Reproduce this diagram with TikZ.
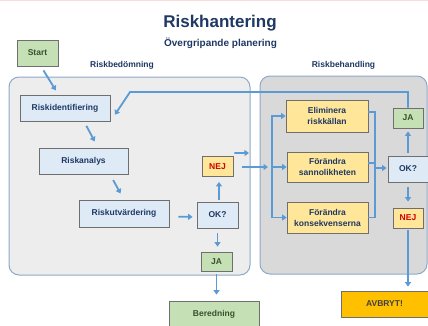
\documentclass[tikz,border=0pt]{standalone}
\usepackage{fontspec}
\setmainfont{Liberation Sans}
\usetikzlibrary{arrows.meta}
\definecolor{navy}{HTML}{1F3864}
\definecolor{gtext}{HTML}{3A4F2E}
\definecolor{redtext}{HTML}{D00000}
\definecolor{greytext}{HTML}{404040}
\definecolor{lblue}{HTML}{DEEBF7}
\definecolor{lyellow}{HTML}{FFE699}
\definecolor{lgreen}{HTML}{C5E0B4}
\definecolor{orange}{HTML}{FFC000}
\definecolor{boxline}{HTML}{6F6F6F}
\definecolor{panelA}{HTML}{EDEDED}
\definecolor{panelB}{HTML}{D9D9D9}
\definecolor{panelline}{HTML}{8EA9C8}
\definecolor{arrblue}{HTML}{5B9BD5}
\definecolor{pinkline}{HTML}{F9DADD}
\tikzset{
  box/.style={draw=boxline, line width=0.8pt, inner sep=1pt, align=center,
    font=\bfseries\fontsize{8.5}{11}\selectfont},
  bluebox/.style={box, fill=lblue, text=navy},
  yellowbox/.style={box, fill=lyellow, text=navy},
  nejbox/.style={box, fill=lyellow, text=redtext},
  greenbox/.style={box, fill=lgreen, text=gtext},
  stopbox/.style={box, fill=orange, text=greytext},
  panel/.style={draw=panelline, line width=1pt, rounded corners=10pt, inner sep=0pt},
  lbl/.style={font=\bfseries\fontsize{8.5}{10}\selectfont, text=navy, inner sep=0pt, anchor=base},
  conn/.style={draw=arrblue, line width=1.8pt},
  arr/.style={conn, -{Triangle[length=4.5pt,width=6pt]}},
}
\begin{document}
\begin{tikzpicture}[x=1pt,y=-1pt]
\useasboundingbox (0,0) rectangle (428,325);
\fill[white] (0,0) rectangle (428,325);
\draw[pinkline, line width=1pt] (0,0.5) -- (428,0.5);

% title
\node[font=\bfseries\fontsize{17}{20}\selectfont, text=navy, anchor=base, inner sep=0pt] (title) at (220,27) {Riskhantering};
\node[font=\bfseries\fontsize{10}{12}\selectfont, text=navy, anchor=base, inner sep=0pt] (subtitle) at (220.5,46) {Övergripande planering};

% panels
\node[panel, fill=panelA, minimum width=241pt, minimum height=198pt] (bedom) at (129.5,176) {};
\node[panel, fill=panelB, minimum width=167pt, minimum height=198pt] (behand) at (343.5,175) {};
\node[lbl] (lbA) at (122,67) {Riskbedömning};
\node[lbl] (lbB) at (343.5,67) {Riskbehandling};

% nodes
\node[greenbox, minimum width=41pt, minimum height=26pt] (start) at (37.5,53) {Start};
\node[bluebox, minimum width=90pt, minimum height=26pt] (ident) at (65,108) {Riskidentifiering};
\node[bluebox, minimum width=89pt, minimum height=26pt] (analys) at (83.5,161) {Riskanalys};
\node[bluebox, minimum width=90pt, minimum height=27pt] (utv) at (124,213.5) {Riskutvärdering};
\node[bluebox, minimum width=41pt, minimum height=26pt] (okL) at (217.5,215) {OK?};
\node[nejbox, minimum width=31pt, minimum height=20pt] (nejL) at (217.5,166.5) {NEJ};
\node[greenbox, minimum width=31pt, minimum height=19pt] (jaL) at (216.5,261.5) {JA};
\node[greenbox, minimum width=90pt, minimum height=26pt] (bered) at (214,314) {Beredning};

\node[yellowbox, minimum width=82pt, minimum height=32pt] (elim) at (327,116) {Eliminera\\riskkällan};
\node[yellowbox, minimum width=81pt, minimum height=30pt] (sann) at (327.5,167) {Förändra\\sannolikheten};
\node[yellowbox, minimum width=81pt, minimum height=31pt] (kons) at (327.5,217.5) {Förändra\\konsekvenserna};
\node[greenbox, minimum width=30pt, minimum height=20pt] (jaR) at (408,118) {JA};
\node[bluebox, minimum width=40pt, minimum height=26pt] (okR) at (408,169) {OK?};
\node[nejbox, minimum width=30pt, minimum height=20pt] (nejR) at (408,218) {NEJ};
\node[stopbox, minimum width=87pt, minimum height=26pt] (avbryt) at (384.5,304) {AVBRYT!};

% coordinates
\coordinate (bm) at (272,167);
\coordinate (cm) at (375,168);
\coordinate (lp) at (130,92);
\coordinate (nshort) at (249,153);

% connectors left
\draw[arr, shorten <=4.7pt, shorten >=5pt] ([xshift=3.5pt]start.south) -- ([xshift=-6.6pt]ident.north);
\draw[arr, shorten <=5pt, shorten >=7pt] ([xshift=19pt]ident.south) -- ([xshift=14.5pt]analys.north);
\draw[arr, shorten <=6.5pt, shorten >=7pt] ([xshift=26.5pt]analys.south) -- (utv.north);
\draw[arr, shorten <=9pt, shorten >=4pt] ([yshift=-3pt]utv.east) -- ([yshift=-2pt]okL.west);
\draw[arr, shorten <=2pt, shorten >=5pt] ([xshift=1.5pt]okL.north) -- ([xshift=1.5pt]nejL.south);
\draw[arr, shorten <=5pt, shorten >=5pt] (okL.south) -- (okL.south |- jaL.north);
\draw[arr, shorten <=3pt, shorten >=6pt] (jaL.south) -- (jaL.south |- bered.north);

% from NEJ (left) to treatment
\draw[arr, shorten <=1pt] ([yshift=3pt]nejL.north east) -- (nshort);
\draw[arr, shorten <=9pt, shorten >=4pt] (nejL.east |- bm) -- (bm);
\draw[arr] (bm) |- (elim.west);
\draw[arr] (bm) -- (sann.west |- bm);
\draw[arr] (bm) |- (kons.west);

% collector
\draw[conn] ([yshift=4pt]elim.east) -| (cm);
\draw[conn] (cm) |- (kons.east);
\draw[conn] ([yshift=4pt]sann.east) -| (cm);
\draw[arr, shorten >=1pt] (cm) -- (okR.west |- cm);
\draw[arr, shorten <=3pt, shorten >=3pt] (okR.north) -- (jaR.south);
\draw[arr, shorten <=5pt, shorten >=6pt] (okR.south) -- (nejR.north);
\draw[arr, shorten <=2pt, shorten >=4pt] (nejR.south) -- (nejR.south |- avbryt.north);

% loop back
\draw[arr, shorten >=8pt] (jaR.north) |- (lp) -- (ident.south east);
\end{tikzpicture}
\end{document}
